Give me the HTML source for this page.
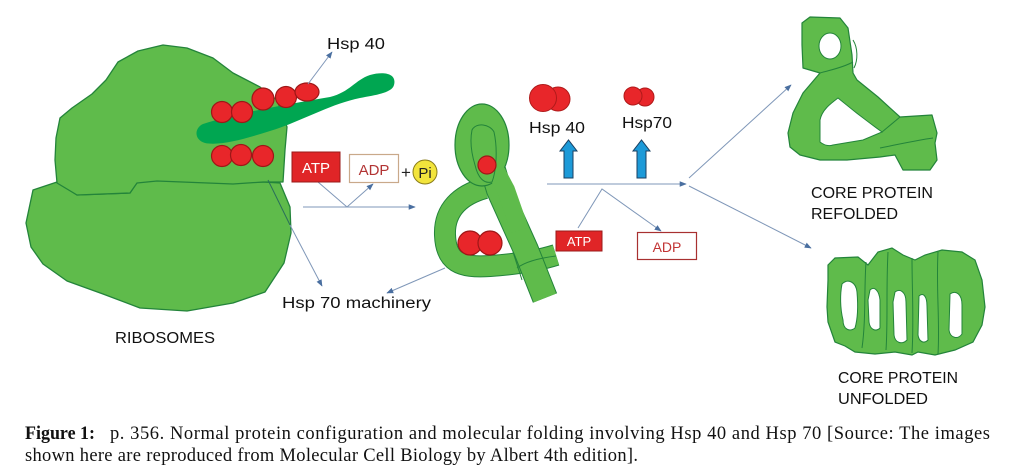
<!DOCTYPE html>
<html><head><meta charset="utf-8"><style>
html,body{margin:0;padding:0;background:#fff;}
svg{display:block;}
</style></head><body>
<svg width="1027" height="476" viewBox="0 0 1027 476" xmlns="http://www.w3.org/2000/svg">
<defs>
<marker id="ah" viewBox="0 0 10 10" refX="9" refY="5" markerWidth="7" markerHeight="7" orient="auto-start-reverse" markerUnits="userSpaceOnUse">
<path d="M0,1 L10,5 L0,9 Z" fill="#4a6fa0"/>
</marker>
</defs>
<rect width="1027" height="476" fill="#fff"/>

<!-- RIBOSOME -->
<g stroke="#23843a" stroke-width="1.3" fill="#5fbb4b" stroke-linejoin="round">
<path d="M33,190 L57,182 L77,195 L130,193 L137,182 L157,180 L233,183 L263,182 L280,183 L290,207 L291,233 L284,263 L265,292 L233,303 L187,311 L140,308 L103,294 L67,281 L43,264 L31,247 L26,223 Z"/>
<path d="M57,183 L55,160 L56,138 L60,118 L72,108 L92,94 L106,80 L118,62 L138,51 L163,45 L187,48 L213,58 L233,73 L260,87 L277,100 L287,127 L285,150 L283,182 L263,182 L233,184 L157,181 L137,183 L130,193 L77,195 Z"/>
</g>
<line x1="268" y1="180" x2="290" y2="225" stroke="#2a6f5a" stroke-width="1"/>
<!-- dark strand -->
<path d="M203,124 C240,112 290,104 330,97 C350,92 355,80 370,75 C385,71 397,74 394,85 C392,93 375,95 360,98 C330,104 300,122 270,131 C245,139 220,146 205,143 C194,140 194,128 203,124 Z" fill="#00a651"/>
<!-- red circles -->
<g fill="#e8262a" stroke="#9e1717" stroke-width="1.2">
<circle cx="222" cy="112" r="10.5"/>
<circle cx="242" cy="112" r="10.5"/>
<circle cx="263" cy="99" r="11"/>
<circle cx="286" cy="97" r="10.5"/>
<ellipse cx="307" cy="92" rx="12" ry="9"/>
<circle cx="222" cy="156" r="10.5"/>
<circle cx="241" cy="155" r="10.5"/>
<circle cx="263" cy="156" r="10.5"/>
</g>

<!-- connectors -->
<g stroke="#7f97b8" stroke-width="1" fill="none">
<line x1="308" y1="84" x2="332" y2="52" marker-end="url(#ah)"/>
<line x1="290" y1="225" x2="322" y2="286" marker-end="url(#ah)"/>
<line x1="303" y1="207" x2="415" y2="207" marker-end="url(#ah)"/>
<polyline points="318,182 347,207 373,184" marker-end="url(#ah)"/>
<line x1="445" y1="268" x2="387" y2="293" marker-end="url(#ah)"/>
<line x1="547" y1="184" x2="686" y2="184" marker-end="url(#ah)"/>
<polyline points="578,228 602,189 661,231" marker-end="url(#ah)"/>
<line x1="689" y1="178" x2="791" y2="85" marker-end="url(#ah)"/>
<line x1="689" y1="186" x2="811" y2="248" marker-end="url(#ah)"/>
</g>

<!-- ATP/ADP left -->
<rect x="292" y="152" width="48" height="30" fill="#e02527" stroke="#9a1a1a" stroke-width="1"/>
<text x="316" y="173" font-family="Liberation Sans, sans-serif" font-size="15" fill="#fff" text-anchor="middle">ATP</text>
<rect x="349.5" y="154.5" width="49" height="28" fill="#fff" stroke="#c9a98a" stroke-width="1.2"/>
<text x="374" y="175" font-family="Liberation Sans, sans-serif" font-size="15" fill="#b23434" text-anchor="middle">ADP</text>
<text x="406" y="178" font-family="Liberation Sans, sans-serif" font-size="17" fill="#222" text-anchor="middle">+</text>
<circle cx="425" cy="172" r="12" fill="#f2e43c" stroke="#8a7d1a" stroke-width="1"/>
<text x="425" y="178" font-family="Liberation Sans, sans-serif" font-size="15" fill="#222" text-anchor="middle">Pi</text>

<!-- MIDDLE PROTEIN -->
<g fill="none" stroke-linejoin="round">
<path d="M485,188 C460,195 444,210 445,235 C446,262 460,268 490,266 C520,264 540,260 556,255" stroke="#23843a" stroke-width="22" stroke-linecap="butt"/>
<path d="M485,188 C460,195 444,210 445,235 C446,262 460,268 490,266 C520,264 540,260 556,255" stroke="#5fbb4b" stroke-width="20" stroke-linecap="butt"/>
<path d="M490,160 L499,190 L526,250 L545,298" stroke="#23843a" stroke-width="26" stroke-linecap="butt"/>
<path d="M490,160 L499,190 L526,250 L545,298" stroke="#5fbb4b" stroke-width="24" stroke-linecap="butt"/>
</g>
<ellipse cx="482" cy="145" rx="27" ry="41" fill="#5fbb4b" stroke="#23843a" stroke-width="1.2"/>
<path d="M490,160 L506,190 L520,230" stroke="#5fbb4b" stroke-width="18" fill="none"/>
<path d="M472,130 C476,122 490,124 494,132 C498,150 496,172 492,182 C484,184 478,178 475,165 C471,152 470,140 472,130 Z" fill="#5fbb4b" stroke="#23843a" stroke-width="1"/>
<path d="M517,268 C525,262 540,258 556,256" stroke="#23843a" stroke-width="1" fill="none"/>
<path d="M513,252 L522,280" stroke="#23843a" stroke-width="1" fill="none"/>
<g fill="#e8262a" stroke="#9e1717" stroke-width="1.2">
<circle cx="487" cy="165" r="9"/>
<circle cx="470" cy="243" r="12"/>
<circle cx="490" cy="243" r="12"/>
</g>

<!-- ATP/ADP middle -->
<rect x="556" y="231" width="46" height="20" fill="#e02527" stroke="#9a1a1a" stroke-width="1"/>
<text x="579" y="246" font-family="Liberation Sans, sans-serif" font-size="13" fill="#fff" text-anchor="middle">ATP</text>
<rect x="637.5" y="232.5" width="59" height="27" fill="#fff" stroke="#a83030" stroke-width="1.2"/>
<text x="667" y="252" font-family="Liberation Sans, sans-serif" font-size="14" fill="#c23434" text-anchor="middle">ADP</text>

<!-- Hsp dumbbells -->
<g fill="#e8262a" stroke="#b01a1a" stroke-width="1">
<circle cx="558" cy="99" r="12"/>
<circle cx="543" cy="98" r="13.5"/>
<circle cx="645" cy="97" r="9"/>
<circle cx="633" cy="96" r="9"/>
</g>
<path d="M564,178 L564,151 L560,151 L568.5,140 L577,151 L573,151 L573,178 Z" fill="#1d9ad8" stroke="#1a3f60" stroke-width="1"/>
<path d="M637,178 L637,151 L633,151 L641.5,140 L650,151 L646,151 L646,178 Z" fill="#1d9ad8" stroke="#1a3f60" stroke-width="1"/>

<!-- REFOLDED PROTEIN -->
<path d="M803,68 L802,45 L802,23 L810,17 L840,18 L848,28 L852,55 L853,73 L857,80 L878,97 L900,117 L932,115 L937,133 L935,143 L937,160 L930,170 L903,170 L895,155 L880,157 L847,160 L820,160 L800,155 L790,147 L788,133 L793,113 L803,93 L820,73 Z" fill="#5fbb4b" stroke="#23843a" stroke-width="1.2" stroke-linejoin="round"/>
<path d="M838,98 C830,104 822,110 820,120 L820,142 C825,146 830,146 833,145 L863,140 L882,132 C868,122 850,108 838,98 Z" fill="#fff" stroke="#23843a" stroke-width="1"/>
<ellipse cx="830" cy="46" rx="11" ry="13" fill="#fff" stroke="#23843a" stroke-width="1"/>
<g stroke="#23843a" stroke-width="1" fill="none">
<path d="M820,73 C830,70 842,68 853,62"/>
<path d="M882,132 L900,117"/>
<path d="M880,148 C900,144 918,140 933,138"/>
<path d="M853,40 C858,48 858,60 854,68"/>
</g>

<!-- UNFOLDED PROTEIN -->
<path d="M828,265 L835,258 L858,257 L868,265 L878,252 L892,248 L903,255 L915,260 L925,255 L942,250 L962,252 L975,260 L982,280 L985,307 L982,325 L973,342 L955,350 L935,355 L918,352 L912,355 L895,352 L875,354 L855,352 L845,346 L835,342 L828,322 L827,307 L828,280 Z" fill="#5fbb4b" stroke="#23843a" stroke-width="1.2"/>
<g fill="#fff" stroke="#23843a" stroke-width="1">
<path d="M842,284 C848,278 856,282 857,292 C858,304 858,318 855,328 C850,332 843,330 843,320 C840,308 840,294 842,284 Z"/>
<path d="M870,290 C874,286 879,290 880,300 L880,328 C876,332 870,330 869,322 L868,300 Z"/>
<path d="M895,292 C900,288 906,292 906,302 L907,340 C902,345 895,343 894,335 L893,302 Z"/>
<path d="M919,296 C923,292 927,296 927,306 L928,340 C924,344 919,342 918,335 Z"/>
<path d="M950,294 C956,290 962,294 962,305 L962,334 C958,340 950,338 949,330 Z"/>
</g>
<g stroke="#23843a" stroke-width="1" fill="none">
<path d="M866,262 C864,290 866,320 862,348"/>
<path d="M888,252 C886,290 888,320 886,350"/>
<path d="M912,258 C912,290 914,320 912,353"/>
<path d="M938,252 C936,290 940,320 938,354"/>
</g>

<!-- LABELS -->
<g font-family="Liberation Sans, sans-serif" fill="#111" font-size="15.5">
<text x="327" y="49" textLength="58" lengthAdjust="spacingAndGlyphs">Hsp 40</text>
<text x="115" y="343" textLength="100" lengthAdjust="spacingAndGlyphs">RIBOSOMES</text>
<text x="282" y="308" textLength="149" lengthAdjust="spacingAndGlyphs">Hsp 70 machinery</text>
<text x="529" y="133" textLength="56" lengthAdjust="spacingAndGlyphs">Hsp 40</text>
<text x="622" y="128" textLength="50" lengthAdjust="spacingAndGlyphs">Hsp70</text>
<text x="811" y="198" textLength="122" lengthAdjust="spacingAndGlyphs">CORE PROTEIN</text>
<text x="811" y="219" textLength="87" lengthAdjust="spacingAndGlyphs">REFOLDED</text>
<text x="838" y="383" textLength="120" lengthAdjust="spacingAndGlyphs">CORE PROTEIN</text>
<text x="838" y="404" textLength="90" lengthAdjust="spacingAndGlyphs">UNFOLDED</text>
</g>

<!-- CAPTION -->
<g font-family="Liberation Serif, serif" font-size="18.5" fill="#111">
<text x="25" y="439" font-weight="bold" textLength="70" lengthAdjust="spacingAndGlyphs">Figure 1:</text>
<text x="110" y="439" textLength="880" lengthAdjust="spacing">p. 356. Normal protein configuration and molecular folding involving Hsp 40 and Hsp 70 [Source: The images</text>
<text x="25" y="461" textLength="613" lengthAdjust="spacing">shown here are reproduced from Molecular Cell Biology by Albert 4th edition].</text>
</g>
</svg>
</body></html>
